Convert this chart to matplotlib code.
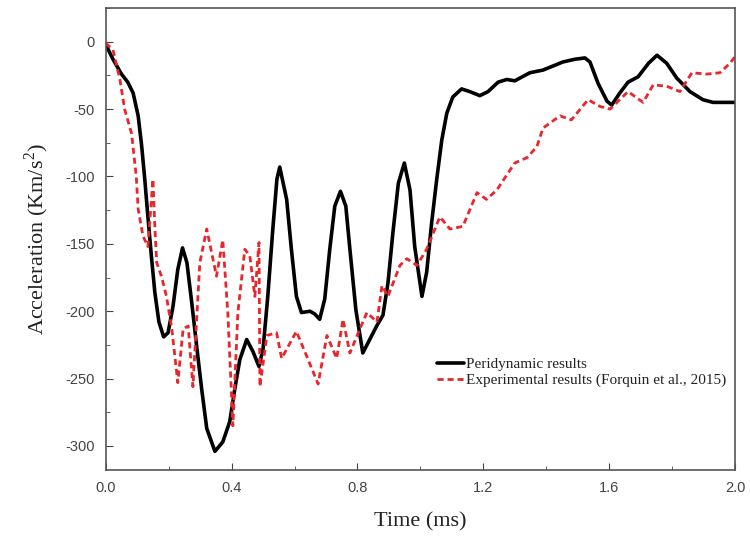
import matplotlib
matplotlib.use('Agg')
import matplotlib.pyplot as plt
from matplotlib.ticker import MultipleLocator

plt.rcParams['axes.unicode_minus'] = False
plt.rcParams['mathtext.fontset'] = 'custom'
plt.rcParams['mathtext.rm'] = 'Liberation Serif'

# Peridynamic results
t_pd = [0.0, 0.023, 0.05, 0.07, 0.087, 0.103, 0.114, 0.124, 0.134, 0.145, 0.156, 0.169,
        0.184, 0.198, 0.214, 0.229, 0.244, 0.258, 0.273, 0.289, 0.305, 0.321, 0.347, 0.372,
        0.394, 0.41, 0.426, 0.448, 0.468, 0.487, 0.5, 0.515, 0.531, 0.544, 0.553, 0.575,
        0.59, 0.606, 0.622, 0.649, 0.664, 0.68, 0.696, 0.712, 0.728, 0.746, 0.763, 0.776,
        0.795, 0.817, 0.839, 0.861, 0.881, 0.897, 0.913, 0.93, 0.949, 0.967, 0.982, 1.005,
        1.02, 1.036, 1.052, 1.068, 1.084, 1.103, 1.131, 1.157, 1.189, 1.215, 1.247, 1.275,
        1.3, 1.348, 1.39, 1.453, 1.491, 1.523, 1.539, 1.565, 1.593, 1.608, 1.634, 1.66,
        1.692, 1.725, 1.752, 1.783, 1.815, 1.857, 1.898, 1.93, 2.0]
a_pd = [-2, -13, -24, -30, -38, -55, -77, -102, -130, -159, -186, -208,
        -219, -216, -196, -169, -153, -164, -193, -226, -258, -287, -304, -297,
        -282, -258, -236, -221, -230, -241, -228, -189, -139, -102, -93, -117,
        -154, -189, -201, -200, -202, -206, -191, -154, -122, -111, -122, -154,
        -199, -231, -221, -211, -203, -179, -141, -105, -90, -110, -152, -189,
        -171, -134, -102, -73, -53, -41, -35, -37, -40, -37, -30, -28,
        -29, -23, -21, -15, -13, -12, -15, -31, -44, -47, -38, -30,
        -26, -16, -10, -16, -27, -37, -43, -45, -45]

# Experimental results (Forquin et al., 2015)
t_exp = [0.0, 0.023, 0.045, 0.06, 0.082, 0.097, 0.103, 0.118, 0.134, 0.15, 0.156, 0.162,
         0.177, 0.193, 0.21, 0.229, 0.246, 0.262, 0.277, 0.299, 0.321, 0.352, 0.372, 0.388,
         0.404, 0.42, 0.442, 0.458, 0.474, 0.487, 0.49, 0.512, 0.543, 0.559, 0.606, 0.638,
         0.675, 0.703, 0.734, 0.754, 0.776, 0.808, 0.83, 0.862, 0.878, 0.897, 0.935, 0.957,
         0.989, 1.02, 1.062, 1.094, 1.135, 1.18, 1.21, 1.243, 1.3, 1.339, 1.37, 1.39,
         1.444, 1.48, 1.533, 1.571, 1.603, 1.66, 1.708, 1.74, 1.783, 1.825, 1.863, 1.91,
         1.952, 1.984, 2.0]
a_exp = [-1, -6, -28, -50, -68, -100, -124, -144, -152, -102, -137, -164,
         -174, -189, -213, -253, -213, -211, -256, -164, -139, -174, -147, -201,
         -285, -201, -154, -159, -189, -149, -256, -218, -216, -235, -215, -233,
         -254, -218, -235, -206, -231, -213, -201, -208, -181, -189, -166, -161,
         -166, -154, -130, -139, -137, -112, -117, -110, -90, -86, -78, -64,
         -55, -58, -43, -48, -50, -37, -45, -32, -33, -37, -23, -24,
         -23, -16, -11]

fig = plt.figure(figsize=(7.5, 5.38), dpi=100)
ax = fig.add_axes([0.141, 0.126, 0.839, 0.859])

ax.plot(t_pd, a_pd, color='black', lw=2.6, solid_joinstyle='round',
        solid_capstyle='round', label='Peridynamic results')
ax.plot(t_exp, a_exp, color='#e8262c', lw=2.0, ls=(0, (2.2, 1.4)),
        dash_joinstyle='round', label='Experimental results (Forquin et al., 2015)')

ax.set_xlim(0, 2.0)
ax.set_ylim(-318, 25)
ax.xaxis.set_major_locator(MultipleLocator(0.4))
ax.xaxis.set_minor_locator(MultipleLocator(0.2))
ax.yaxis.set_major_locator(MultipleLocator(50))
ax.yaxis.set_minor_locator(MultipleLocator(25))
ax.tick_params(which='both', direction='in', top=False, right=False,
               labelsize=10.5, labelcolor='#444444', color='#444444')
ax.tick_params(which='major', length=5, pad=8)
ax.tick_params(which='minor', length=3)
for lab in ax.get_xticklabels() + ax.get_yticklabels():
    lab.set_family('Liberation Sans')
for s in ax.spines.values():
    s.set_color('#555555')
    s.set_linewidth(1.2)

ax.set_xlabel('Time (ms)', family='Liberation Serif', fontsize=16, color='#222222', labelpad=12)
ax.set_ylabel('Acceleration (Km/s$^2$)', family='Liberation Serif', fontsize=16,
              color='#222222', labelpad=10)

leg = ax.legend(loc='lower right', bbox_to_anchor=(1.0, 0.16), frameon=False,
                prop={'family': 'Liberation Serif', 'size': 11}, handlelength=1.8,
                handletextpad=0.1, labelspacing=0.15, borderaxespad=0.2)
for txt in leg.get_texts():
    txt.set_color('#222222')

fig.savefig('out.png', dpi=100)
